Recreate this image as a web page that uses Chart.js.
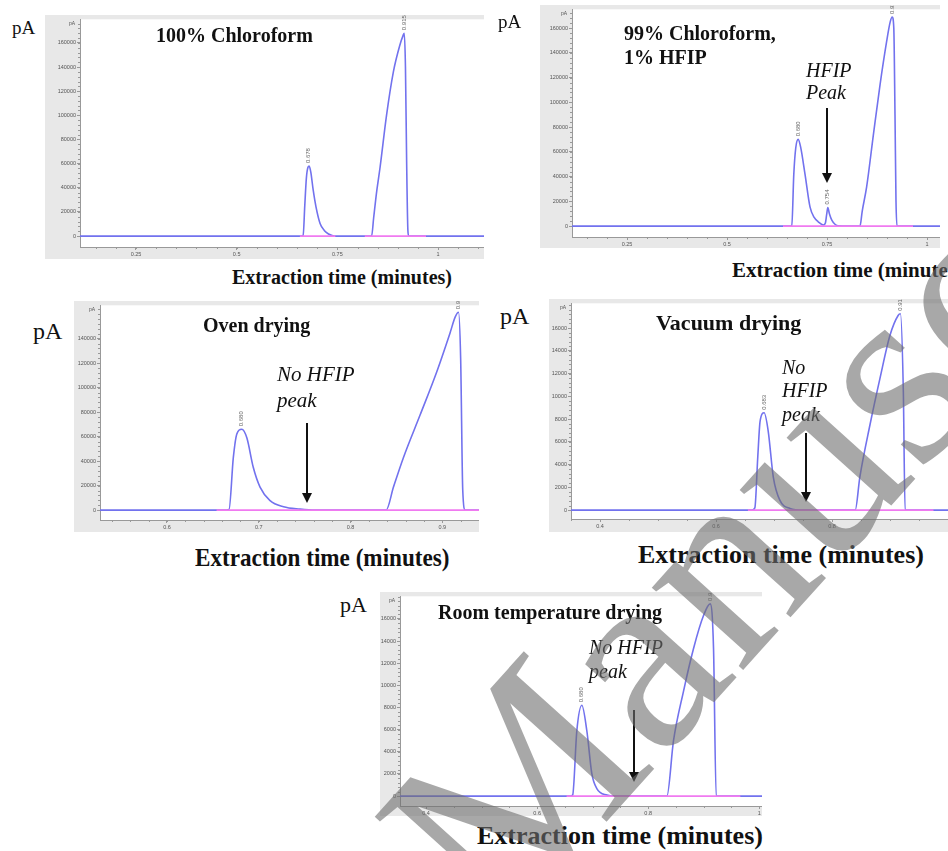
<!DOCTYPE html>
<html>
<head>
<meta charset="utf-8">
<title>HFIP chromatograms</title>
<script src="https://cdn.jsdelivr.net/npm/chart.js@4.4.1/dist/chart.umd.min.js"></script>
<style>
  html, body { margin: 0; padding: 0; background: #fff; }
  body { position: relative; width: 948px; height: 851px; overflow: hidden;
         font-family: "Liberation Serif", "Times New Roman", serif; color: #111; }
  canvas { position: absolute; }
  .lbl { position: absolute; white-space: nowrap; line-height: 1; }
  .b { font-weight: bold; }
  .i { font-style: italic; }
  .arrow { position: absolute; width: 2px; background: #111; }
  .arrow::after { content: ""; position: absolute; left: -4px; top: 100%;
                  border-left: 5px solid transparent; border-right: 5px solid transparent;
                  border-top: 10px solid #111; }
  #mark { position: absolute; left: 0; top: 0; pointer-events: none; }
</style>
</head>
<body>

<canvas id="cA" width="439" height="244" style="left:45px;top:15px"></canvas>
<canvas id="cB" width="400" height="243" style="left:540px;top:5px"></canvas>
<canvas id="cC" width="405" height="231" style="left:74px;top:301px"></canvas>
<canvas id="cD" width="399" height="233" style="left:549px;top:299px"></canvas>
<canvas id="cE" width="382" height="224" style="left:380px;top:592px"></canvas>

<!-- panel A -->
<div class="lbl" style="left:12px;top:18px;font-size:19px">pA</div>
<div class="lbl b" style="left:156px;top:25px;font-size:20px">100% Chloroform</div>
<div class="lbl b" style="left:232px;top:267px;font-size:20px">Extraction time (minutes)</div>

<!-- panel B -->
<div class="lbl" style="left:498px;top:12px;font-size:19px">pA</div>
<div class="lbl b" style="left:624px;top:23px;font-size:20px">99% Chloroform,</div>
<div class="lbl b" style="left:624px;top:47px;font-size:20px">1% HFIP</div>
<div class="lbl i" style="left:806px;top:60px;font-size:20px">HFIP</div>
<div class="lbl i" style="left:806px;top:82px;font-size:20px">Peak</div>
<div class="arrow" style="left:826px;top:108px;height:65px"></div>
<div class="lbl b" style="left:732px;top:260px;font-size:21px">Extraction time (minutes)</div>

<!-- panel C -->
<div class="lbl" style="left:33px;top:319px;font-size:24px">pA</div>
<div class="lbl b" style="left:203px;top:315px;font-size:20px">Oven drying</div>
<div class="lbl i" style="left:277px;top:364px;font-size:21px">No HFIP</div>
<div class="lbl i" style="left:277px;top:390px;font-size:21px">peak</div>
<div class="arrow" style="left:306px;top:423px;height:70px"></div>
<div class="lbl b" style="left:195px;top:545px;font-size:26px;transform:scaleX(0.89);transform-origin:0 0">Extraction time (minutes)</div>

<!-- panel D -->
<div class="lbl" style="left:500px;top:304px;font-size:24px">pA</div>
<div class="lbl b" style="left:656px;top:312px;font-size:22px">Vacuum drying</div>
<div class="lbl i" style="left:782px;top:357px;font-size:20px">No</div>
<div class="lbl i" style="left:782px;top:380px;font-size:20px">HFIP</div>
<div class="lbl i" style="left:782px;top:404px;font-size:20px">peak</div>
<div class="arrow" style="left:805px;top:433px;height:59px"></div>
<div class="lbl b" style="left:638px;top:542px;font-size:26px">Extraction time (minutes)</div>

<!-- panel E -->
<div class="lbl" style="left:340px;top:594px;font-size:22px">pA</div>
<div class="lbl b" style="left:438px;top:602px;font-size:20px">Room temperature drying</div>
<div class="lbl i" style="left:589px;top:637px;font-size:20px">No HFIP</div>
<div class="lbl i" style="left:589px;top:661px;font-size:20px">peak</div>
<div class="arrow" style="left:633px;top:710px;height:62px"></div>
<div class="lbl b" style="left:477px;top:823px;font-size:26px">Extraction time (minutes)</div>

<svg id="mark" width="948" height="851">
  <text x="500" y="940" transform="rotate(-48 500 940)" font-family="Liberation Serif" font-size="268"
        fill="#6e6e6e" fill-opacity="0.6">Manuscript</text>
</svg>

<script>
// 100% Chloroform
const timeA = [0.11, 0.655, 0.665, 0.669, 0.673, 0.677, 0.680, 0.684, 0.690, 0.697, 0.707, 0.718, 0.728, 0.744,
  0.835, 0.840, 0.848, 0.856, 0.872, 0.889, 0.905, 0.913, 0.916, 0.919, 0.922, 0.925, 0.927, 1.12];
const signalA = [0, 0, 500, 25000, 48000, 57000, 58000, 53000, 38000, 24000, 10500, 4500, 1800, 0,
  0, 15000, 38000, 57000, 100000, 136000, 158000, 166000, 168000, 140000, 60000, 5000, 0, 0];
const baseA = [[0.657, 0.745], [0.818, 0.97]];
const peakNamesA = ["0.678", "0.915"];
const peakTimesA = [0.679, 0.916];
const xTicksA = [0.25, 0.5, 0.75, 1];
const yTicksA = [0, 20000, 40000, 60000, 80000, 100000, 120000, 140000, 160000];

// 99% Chloroform, 1% HFIP
const timeB = [0.11, 0.655, 0.662, 0.667, 0.672, 0.678, 0.684, 0.695, 0.7075, 0.718, 0.728, 0.741,
  0.746, 0.749, 0.752, 0.756, 0.762, 0.770, 0.778,
  0.8325, 0.838, 0.849, 0.866, 0.8825, 0.899, 0.908, 0.913, 0.917, 0.920, 0.9225, 0.925, 1.04];
const signalB = [0, 0, 300, 42000, 63500, 70100, 64000, 42000, 15500, 7000, 3500, 900,
  2500, 9000, 15000, 10000, 4800, 1500, 300,
  0, 12000, 31500, 74000, 114000, 149000, 165000, 169000, 160000, 90000, 20000, 0, 0];
const baseB = [[0.64, 0.965]];
const peakNamesB = ["0.680", "0.754", "0.913"];
const peakTimesB = [0.678, 0.752, 0.913];
const xTicksB = [0.25, 0.5, 0.75, 1];
const yTicksB = [0, 20000, 40000, 60000, 80000, 100000, 120000, 140000, 160000];

// Oven drying
const timeC = [0.52, 0.662, 0.6676, 0.6723, 0.676, 0.6815, 0.687, 0.694, 0.7014, 0.712, 0.727, 0.745, 0.762,
  0.8388, 0.8468, 0.8577, 0.876, 0.894, 0.9086, 0.914, 0.9177, 0.920, 0.9223, 0.925, 0.95];
const signalC = [0, 0, 500, 43000, 62000, 66000, 59000, 35000, 18800, 8000, 2700, 800, 0,
  0, 18800, 43000, 78000, 113000, 145000, 157500, 161500, 124000, 16000, 0, 0];
const baseC = [[0.654, 0.95]];
const peakNamesC = ["0.680", "0.917"];
const peakTimesC = [0.6815, 0.9177];
const xTicksC = [0.6, 0.7, 0.8, 0.9];
const yTicksC = [0, 20000, 40000, 60000, 80000, 100000, 120000, 140000];

// Vacuum drying
const timeD = [0.34, 0.662, 0.667, 0.672, 0.676, 0.683, 0.690, 0.6988, 0.710, 0.7276, 0.75,
  0.84, 0.848, 0.8655, 0.8828, 0.90, 0.914, 0.918, 0.923, 0.926, 1.01];
const signalD = [0, 0, 200, 4640, 7800, 8550, 6950, 2900, 870, 150, 0,
  0, 2900, 7500, 11600, 15360, 17100, 17250, 10400, 0, 0];
const baseD = [[0.655, 0.975]];
const peakNamesD = ["0.683", "0.918"];
const peakTimesD = [0.683, 0.918];
const xTicksD = [0.4, 0.6, 0.8];
const yTicksD = [0, 2000, 4000, 6000, 8000, 10000, 12000, 14000, 16000];

// Room temperature drying
const timeE = [0.34, 0.66, 0.664, 0.6715, 0.6805, 0.6895, 0.6986, 0.7075, 0.7256, 0.74,
  0.8337, 0.8456, 0.8636, 0.8817, 0.8997, 0.9117, 0.9177, 0.9225, 1.02];
const signalE = [0, 0, 100, 5900, 8200, 5900, 2000, 680, 90, 0,
  0, 5000, 9460, 13330, 16300, 17350, 13330, 0, 0];
const baseE = [[0.653, 0.966]];
const peakNamesE = ["0.680", "0.912"];
const peakTimesE = [0.6805, 0.9117];
const xTicksE = [0.4, 0.6, 0.8, 1];
const yTicksE = [0, 2000, 4000, 6000, 8000, 10000, 12000, 14000, 16000];

// how each panel sits on the page
const panels = [
  { id: "cA", time: timeA, signal: signalA, base: baseA, names: peakNamesA, peaks: peakTimesA,
    xTicks: xTicksA, yTicks: yTicksA, yW: 35, xH: 12, x: [0.111, 1.114], y: [-9016, 179500], minX: 0.05, minY: 4000 },
  { id: "cB", time: timeB, signal: signalB, base: baseB, names: peakNamesB, peaks: peakTimesB,
    xTicks: xTicksB, yTicks: yTicksB, yW: 32, xH: 11, x: [0.1125, 1.0325], y: [-8800, 175200], minX: 0.05, minY: 4000 },
  { id: "cC", time: timeC, signal: signalC, base: baseC, names: peakNamesC, peaks: peakTimesC,
    xTicks: xTicksC, yTicks: yTicksC, yW: 26, xH: 12, x: [0.527, 0.94], y: [-8080, 167200], minX: 0.02, minY: 4000 },
  { id: "cD", time: timeD, signal: signalD, base: baseD, names: peakNamesD, peaks: peakTimesD,
    xTicks: xTicksD, yTicks: yTicksD, yW: 22, xH: 13, x: [0.35, 1.0], y: [-783, 18174], minX: 0.05, minY: 400 },
  { id: "cE", time: timeE, signal: signalE, base: baseE, names: peakNamesE, peaks: peakTimesE,
    xTicks: xTicksE, yTicks: yTicksE, yW: 20, xH: 10, x: [0.353, 1.005], y: [-893, 18036], minX: 0.05, minY: 400 }
];

const tickFont = { family: "Liberation Sans", size: 5.5 };

function makeChart(p) {
  // gray frame, white plot area, minor ticks, peak labels
  const frame = {
    id: "frame",
    beforeDraw(chart) {
      const { ctx, chartArea: a } = chart;
      ctx.save();
      ctx.fillStyle = "#e8e8e8";
      ctx.fillRect(0, 0, chart.width, chart.height);
      ctx.fillStyle = "#fff";
      ctx.fillRect(a.left, a.top, a.right - a.left, a.bottom - a.top);
      ctx.restore();
    },
    afterDraw(chart) {
      const { ctx, chartArea: a, scales } = chart;
      ctx.save();
      ctx.strokeStyle = "#999";
      ctx.lineWidth = 1;
      ctx.beginPath();
      for (let v = 0; v <= p.y[1]; v += p.minY) {
        const py = Math.round(scales.y.getPixelForValue(v)) + 0.5;
        ctx.moveTo(a.left - 2, py);
        ctx.lineTo(a.left, py);
      }
      for (let v = Math.ceil(p.x[0] / p.minX) * p.minX; v <= p.x[1]; v += p.minX) {
        const px = Math.round(scales.x.getPixelForValue(v)) + 0.5;
        ctx.moveTo(px, a.bottom);
        ctx.lineTo(px, a.bottom + 2);
      }
      ctx.stroke();

      ctx.fillStyle = "#555";
      ctx.font = "5px 'Liberation Sans'";
      ctx.textAlign = "right";
      ctx.textBaseline = "middle";
      ctx.fillText("pA", a.left - 5, a.top + 4);

      ctx.fillStyle = "#666";
      ctx.font = "6px 'Liberation Sans'";
      ctx.textAlign = "left";
      p.peaks.forEach((t, k) => {
        let h = 0;
        p.time.forEach((tt, i) => { if (Math.abs(tt - t) < 0.006) h = Math.max(h, p.signal[i]); });
        const px = scales.x.getPixelForValue(t);
        const py = scales.y.getPixelForValue(h) - 3;
        ctx.save();
        ctx.translate(px, py);
        ctx.rotate(-Math.PI / 2);
        ctx.fillText(p.names[k], 0, 0);
        ctx.restore();
      });
      ctx.restore();
    }
  };

  const datasets = p.base.map(r => ({
    data: r.map(t => ({ x: t, y: 0 })),
    borderColor: "#f07af0",
    borderWidth: 1.6,
    pointRadius: 0
  }));
  datasets.push({
    data: p.time.map((t, i) => ({ x: t, y: p.signal[i] })),
    borderColor: "#7272ee",
    borderWidth: 1.6,
    pointRadius: 0,
    cubicInterpolationMode: "monotone"
  });

  new Chart(document.getElementById(p.id), {
    type: "line",
    data: { datasets: datasets },
    options: {
      responsive: false,
      animation: false,
      events: [],
      layout: { padding: { top: 2, right: 0, bottom: 0, left: 0 } },
      plugins: { legend: { display: false }, tooltip: { enabled: false } },
      scales: {
        x: {
          type: "linear",
          min: p.x[0],
          max: p.x[1],
          afterBuildTicks: s => { s.ticks = p.xTicks.map(v => ({ value: v })); },
          afterFit: s => { s.height = p.xH; },
          ticks: { font: tickFont, color: "#555", padding: 1, maxRotation: 0, autoSkip: false,
                   callback: v => String(v) },
          grid: { drawOnChartArea: false, tickLength: 3, color: "#999" },
          border: { color: "#999" }
        },
        y: {
          min: p.y[0],
          max: p.y[1],
          afterBuildTicks: s => { s.ticks = p.yTicks.map(v => ({ value: v })); },
          afterFit: s => { s.width = p.yW; },
          ticks: { font: tickFont, color: "#555", padding: 1, autoSkip: false,
                   callback: v => String(v) },
          grid: { drawOnChartArea: false, tickLength: 3, color: "#999" },
          border: { color: "#999" }
        }
      }
    },
    plugins: [frame]
  });
}

panels.forEach(makeChart);
</script>
</body>
</html>
